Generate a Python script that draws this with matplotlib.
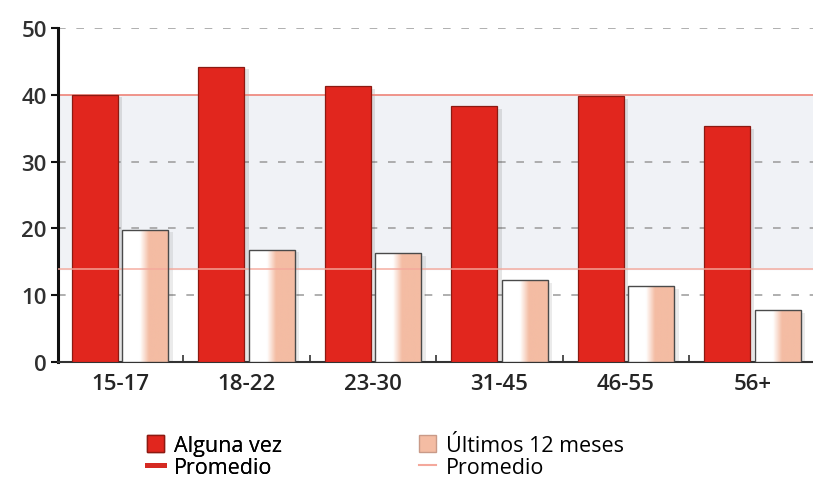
import matplotlib
matplotlib.use('Agg')
import matplotlib.pyplot as plt
import numpy as np
from matplotlib.lines import Line2D
from matplotlib.patches import Patch
from matplotlib.colors import LinearSegmentedColormap

# age groups and shares (%)
groups      = ['15-17', '18-22', '23-30', '31-45', '46-55', '56+']
alguna_vez  = [40.0, 44.2, 41.3, 38.3, 39.8, 35.3]
ultimos_12  = [19.8, 16.8, 16.3, 12.3, 11.4, 7.8]
prom_alguna = 40.0
prom_ult    = 13.9

red      = '#e1261e'
red_edge = '#8c1a12'
peach    = '#f4bca3'
line_red = '#ee8378'
line_pk  = '#f4a89c'

plt.rcParams['font.family'] = ['Open Sans', 'DejaVu Sans']

fig = plt.figure(figsize=(8.13, 4.89), dpi=100)
ax = fig.add_axes([58/813, 1-363/489, 1-58/813, (363-29)/489])

x = np.arange(len(groups))
w = 0.364
off = 0.2

# band between the two averages
ax.axhspan(prom_ult, prom_alguna, color='#f0f2f6', zorder=0)
for yv in [10, 20, 30, 50]:
  ax.axhline(yv, color='#9a9a9a', lw=1.1, ls=(0, (5, 7)), zorder=1)

# soft shadows to the right of the bars
for xi, a, u in zip(x, alguna_vez, ultimos_12):
  ax.bar(xi-off+0.035, a-0.4, w, bottom=0, color='#000000', alpha=0.10, zorder=2, lw=0)
  ax.bar(xi+off+0.035, u-0.4, w, bottom=0, color='#000000', alpha=0.08, zorder=2, lw=0)

ax.bar(x-off, alguna_vez, w, color=red, edgecolor=red_edge, lw=0.9, zorder=3)

grad = LinearSegmentedColormap.from_list('wp', [(0, 'white'), (0.38, 'white'), (0.58, peach), (1, peach)])
gimg = np.linspace(0, 1, 64).reshape(1, -1)
bars = ax.bar(x+off, ultimos_12, w, facecolor='none', edgecolor='#4a4a4a', lw=1.0, zorder=4)
for b in bars:
  im = ax.imshow(gimg, cmap=grad, aspect='auto', zorder=3.5,
                 extent=[b.get_x(), b.get_x()+b.get_width(), 0, b.get_height()])
  im.set_clip_path(b)

ax.axhline(prom_alguna, color=line_red, lw=1.2, zorder=2.5)
# lower average runs faintly across the bars too
ax.axhline(prom_ult, color=line_pk, lw=1.3, alpha=0.8, zorder=3.8)

ax.set_xlim(-0.49, 5.48)
ax.set_ylim(0, 50)
ax.set_yticks([0, 10, 20, 30, 40, 50])
ax.set_xticks(x)
ax.set_xticklabels(groups)
ax.set_xticks(x[:-1]+0.5, minor=True)
ax.tick_params(axis='x', which='major', length=0, pad=8, labelsize=16, labelcolor='#252525')
ax.tick_params(axis='x', which='minor', direction='in', length=5, width=1.2, color='#333333')
ax.tick_params(axis='y', direction='out', length=5, width=1.5, color='#111111', labelsize=16, labelcolor='#303030', pad=3)
for lbl in ax.get_yticklabels() + ax.get_xticklabels():
  lbl.set_fontweight('semibold')

for s in ['top', 'right']:
  ax.spines[s].set_visible(False)
ax.spines['left'].set_linewidth(2.2)
ax.spines['left'].set_color('#111111')
ax.spines['bottom'].set_linewidth(1.5)
ax.spines['bottom'].set_color('#333333')

leg_kw = dict(loc='upper left', frameon=False, fontsize=15.5, handlelength=0.8, handleheight=0.8,
              handletextpad=0.45, labelspacing=0.05, borderpad=0)
h1 = [Patch(facecolor=red, edgecolor=red_edge), Line2D([0], [0], color='#d52a22', lw=3.5)]
h2 = [Patch(facecolor=peach, edgecolor='#c99a88'), Line2D([0], [0], color=line_pk, lw=1.5)]
l1 = fig.legend(h1, ['Alguna vez', 'Promedio'], bbox_to_anchor=(136/813, 1-425/489), **leg_kw)
fig.legend(h2, ['Últimos 12 meses', 'Promedio'], bbox_to_anchor=(408/813, 1-425/489), **leg_kw)
fig.add_artist(l1)

fig.savefig('out.png', dpi=100)
